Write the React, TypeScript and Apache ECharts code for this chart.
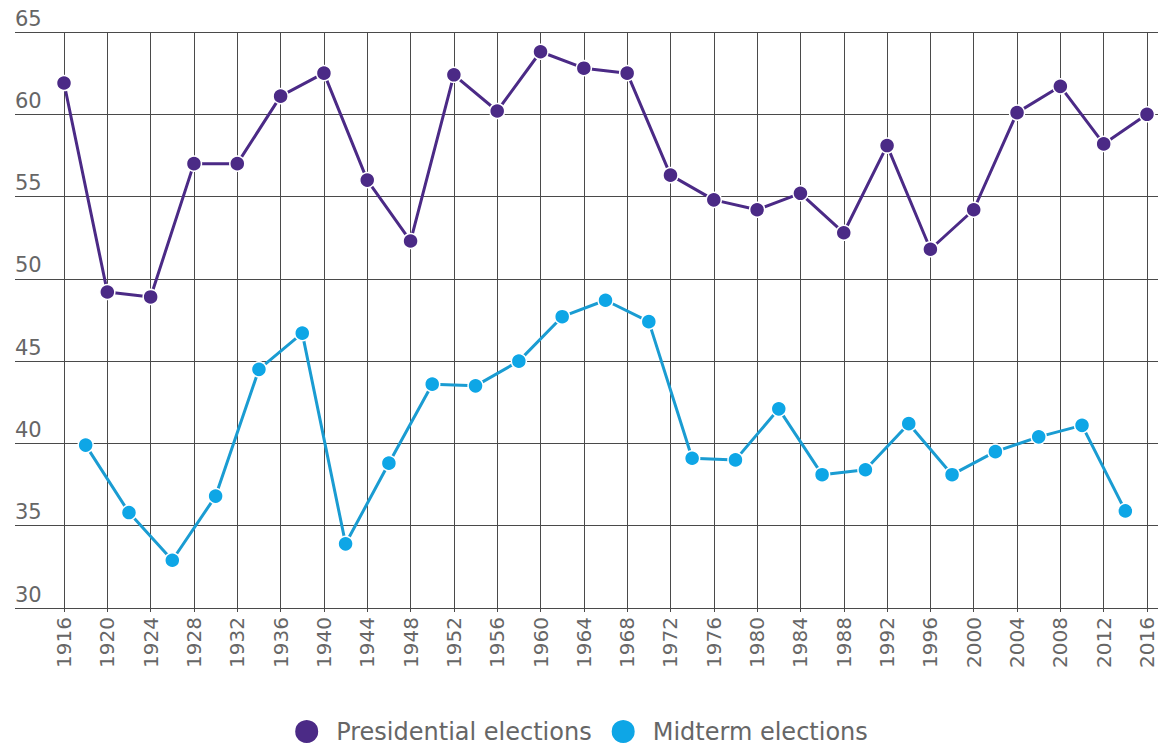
import React, { useEffect, useRef } from "react";
import * as echarts from "echarts";

const presYears = [1916, 1920, 1924, 1928, 1932, 1936, 1940, 1944, 1948, 1952, 1956, 1960, 1964, 1968, 1972, 1976, 1980, 1984, 1988, 1992, 1996, 2000, 2004, 2008, 2012, 2016];
const presValues = [61.9, 49.2, 48.9, 57.0, 57.0, 61.1, 62.5, 56.0, 52.3, 62.4, 60.2, 63.8, 62.8, 62.5, 56.3, 54.8, 54.2, 55.2, 52.8, 58.1, 51.8, 54.2, 60.1, 61.7, 58.2, 60.0];

const midYears = [1918, 1922, 1926, 1930, 1934, 1938, 1942, 1946, 1950, 1954, 1958, 1962, 1966, 1970, 1974, 1978, 1982, 1986, 1990, 1994, 1998, 2002, 2006, 2010, 2014];
const midValues = [39.9, 35.8, 32.9, 36.8, 44.5, 46.7, 33.9, 38.8, 43.6, 43.5, 45.0, 47.7, 48.7, 47.4, 39.1, 39.0, 42.1, 38.1, 38.4, 41.2, 38.1, 39.5, 40.4, 41.1, 35.9];

const seriesNames = ["Presidential elections", "Midterm elections"];
const yMin = 30;
const yMax = 65;
const yStep = 5;
const xMin = 1916;
const xMax = 2016;
const xStep = 4;

const FONT = "DejaVu Sans";
const TEXT = "#666666";
const GRIDLINE = "#4a4a4a";
const PURPLE = "#4b2a86";
const BLUE = "#0ea6e6";
const BLUE_LINE = "#1a9cd2";

export default function App() {
  const ref = useRef<HTMLDivElement>(null);
  useEffect(() => {
    if (!ref.current) return;
    const chart = echarts.init(ref.current, null, { renderer: "svg" });
    const pres = presYears.map((y, i) => [y, presValues[i]]);
    const mid = midYears.map((y, i) => [y, midValues[i]]);
    chart.setOption({
      animation: false,
      backgroundColor: "#ffffff",
      textStyle: { fontFamily: FONT },
      grid: [
        { left: 15, right: 3, top: 32, bottom: 139 },
        { left: 64, right: 14, top: 32, bottom: 139 },
      ],
      xAxis: [
        {
          gridIndex: 0,
          type: "value",
          min: 0,
          max: 1,
          show: false,
        },
        {
          gridIndex: 1,
          type: "value",
          min: xMin,
          max: xMax,
          interval: xStep,
          axisLine: { show: false },
          axisTick: { show: true, length: 4, lineStyle: { color: GRIDLINE } },
          splitLine: { show: true, lineStyle: { color: GRIDLINE, width: 1 } },
          axisLabel: {
            rotate: 90,
            margin: 9,
            color: TEXT,
            fontFamily: FONT,
            fontSize: 20,
            formatter: (v: number) => String(v),
          },
        },
      ],
      yAxis: [
        {
          gridIndex: 0,
          type: "value",
          min: yMin,
          max: yMax,
          interval: yStep,
          axisLine: { show: false },
          axisTick: { show: false },
          splitLine: { show: true, lineStyle: { color: GRIDLINE, width: 1 } },
          axisLabel: {
            inside: true,
            margin: 0,
            verticalAlign: "bottom",
            padding: [0, 0, 3, 0],
            color: TEXT,
            fontFamily: FONT,
            fontSize: 21,
          },
        },
        {
          gridIndex: 1,
          type: "value",
          min: yMin,
          max: yMax,
          interval: yStep,
          show: false,
          splitLine: { show: false },
        },
      ],
      legend: {
        bottom: -3,
        left: "center",
        icon: "circle",
        itemWidth: 25,
        itemHeight: 25,
        itemGap: 18,
        textStyle: { color: TEXT, fontFamily: FONT, fontSize: 24, padding: [0, 0, 0, 12] },
        data: seriesNames,
      },
      series: [
        {
          name: seriesNames[0],
          type: "line",
          xAxisIndex: 1,
          yAxisIndex: 1,
          data: pres,
          symbol: "circle",
          symbolSize: 15,
          itemStyle: { color: PURPLE, borderColor: "#ffffff", borderWidth: 1.5 },
          lineStyle: { color: PURPLE, width: 3 },
          z: 3,
        },
        {
          name: seriesNames[1],
          type: "line",
          xAxisIndex: 1,
          yAxisIndex: 1,
          data: mid,
          symbol: "circle",
          symbolSize: 15,
          itemStyle: { color: BLUE, borderColor: "#ffffff", borderWidth: 1.5 },
          lineStyle: { color: BLUE_LINE, width: 3 },
          z: 3,
        },
      ],
    });
    return () => chart.dispose();
  }, []);
  return <div ref={ref} style={{ width: 1161, height: 747, position: "absolute", left: 0, top: 0 }} />;
}
